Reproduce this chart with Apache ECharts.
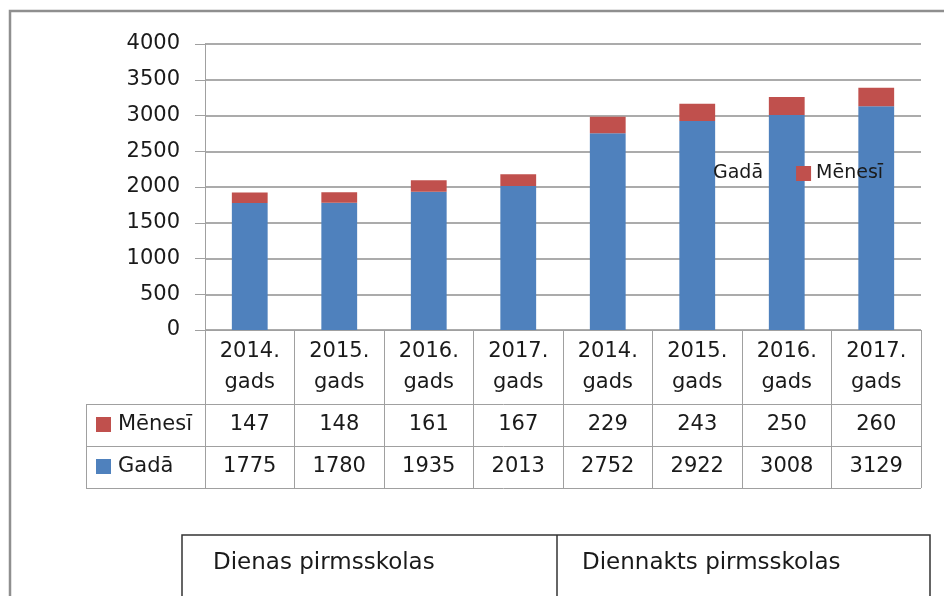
<!DOCTYPE html>
<html lang="lv">
<head>
    <meta charset="UTF-8">
    <title>Pirmsskolas</title>
    <script src="https://cdn.jsdelivr.net/npm/echarts@6/dist/echarts.min.js"></script>
    <style>
        html, body { margin: 0; padding: 0; background: #fff; }
        #main { width: 944px; height: 596px; }
    </style>
</head>
<body>
    <div id="main"></div>
    <script>
        // dati
        const categories = ['2014. gads', '2015. gads', '2016. gads', '2017. gads',
                            '2014. gads', '2015. gads', '2016. gads', '2017. gads'];
        const gada = [1775, 1780, 1935, 2013, 2752, 2922, 3008, 3129];
        const menesi = [147, 148, 161, 167, 229, 243, 250, 260];
        const yTicks = { min: 0, max: 4000, interval: 500 };
        const boxLabels = ['Dienas pirmsskolas', 'Diennakts pirmsskolas'];

        const BLUE = '#4F81BD';
        const RED = '#C0504D';
        const FONT = 'DejaVu Sans';
        const LINE = '#a0a0a0';

        const chart = echarts.init(document.getElementById('main'));

        const option = {
            animation: false,
            textStyle: { fontFamily: FONT },
            grid: { left: 205, right: 23, top: 44, bottom: 266 },
            legend: {
                data: ['Gadā', 'Mēnesī'],
                left: 693,
                top: 164,
                padding: 0,
                icon: 'rect',
                itemWidth: 15,
                itemHeight: 15,
                itemGap: 33,
                textStyle: { fontSize: 19, color: '#1a1a1a', fontFamily: FONT }
            },
            xAxis: {
                type: 'category',
                data: categories,
                axisLine: { lineStyle: { color: LINE, width: 1 } },
                axisTick: { show: true, length: 158, lineStyle: { color: LINE } },
                axisLabel: {
                    margin: 6,
                    fontSize: 21,
                    lineHeight: 31,
                    color: '#1a1a1a',
                    formatter: v => v.replace(' ', '\n')
                }
            },
            yAxis: {
                type: 'value',
                min: yTicks.min,
                max: yTicks.max,
                interval: yTicks.interval,
                axisLine: { show: true, lineStyle: { color: LINE } },
                axisTick: { show: true, length: 10, lineStyle: { color: LINE } },
                axisLabel: { margin: 25, fontSize: 21, color: '#1a1a1a', formatter: v => String(v) },
                splitLine: { lineStyle: { color: '#ababab', width: 2 } }
            },
            series: [
                {
                    name: 'Gadā', type: 'bar', stack: 'kopa', barWidth: '40%',
                    itemStyle: { color: BLUE }, data: gada
                },
                {
                    name: 'Mēnesī', type: 'bar', stack: 'kopa', barWidth: '40%',
                    itemStyle: { color: RED }, data: menesi
                }
            ]
        };

        chart.setOption(option);

        // datu tabula zem grafika
        function txt(text, x, y, size, align) {
            return {
                type: 'text', x: x, y: y, z: 10,
                style: {
                    text: text, fill: '#1a1a1a',
                    font: size + 'px "' + FONT + '"',
                    textAlign: align, align: align,
                    textVerticalAlign: 'middle', verticalAlign: 'middle'
                }
            };
        }
        function line(x1, y1, x2, y2, color, w) {
            return {
                type: 'line', z: 5,
                shape: { x1: x1, y1: y1, x2: x2, y2: y2 },
                style: { stroke: color, lineWidth: w }
            };
        }

        const gridRight = 944 - 23;
        const colX = categories.map((c, i) => chart.convertToPixel({ xAxisIndex: 0 }, i));
        const rows = [
            { name: 'Mēnesī', color: RED, values: menesi, top: 404 },
            { name: 'Gadā', color: BLUE, values: gada, top: 446 }
        ];
        const rowH = 42;

        const g = [];
        // ārējais rāmis
        g.push({
            type: 'rect', z: 1,
            shape: { x: 10, y: 11, width: 1000, height: 700 },
            style: { fill: null, stroke: '#8f8f8f', lineWidth: 2.5 }
        });
        [404, 446, 488].forEach(y => g.push(line(86, y + 0.5, gridRight, y + 0.5, LINE, 1)));
        g.push(line(86.5, 404, 86.5, 488, LINE, 1));

        rows.forEach(r => {
            g.push({
                type: 'rect', z: 10,
                shape: { x: 96, y: r.top + 13, width: 15, height: 15 },
                style: { fill: r.color }
            });
            g.push(txt(r.name, 118, r.top + rowH / 2, 21, 'left'));
            r.values.forEach((v, i) => g.push(txt(String(v), colX[i], r.top + rowH / 2, 21, 'center')));
        });

        // apakšējā tabula
        g.push({
            type: 'rect', z: 1,
            shape: { x: 182, y: 535, width: 748, height: 120 },
            style: { fill: null, stroke: '#333', lineWidth: 1.5 }
        });
        g.push(line(557, 535, 557, 600, '#333', 1.5));
        g.push(txt(boxLabels[0], 213, 563, 23, 'left'));
        g.push(txt(boxLabels[1], 582, 563, 23, 'left'));

        chart.setOption({ graphic: g });
    </script>
</body>
</html>
